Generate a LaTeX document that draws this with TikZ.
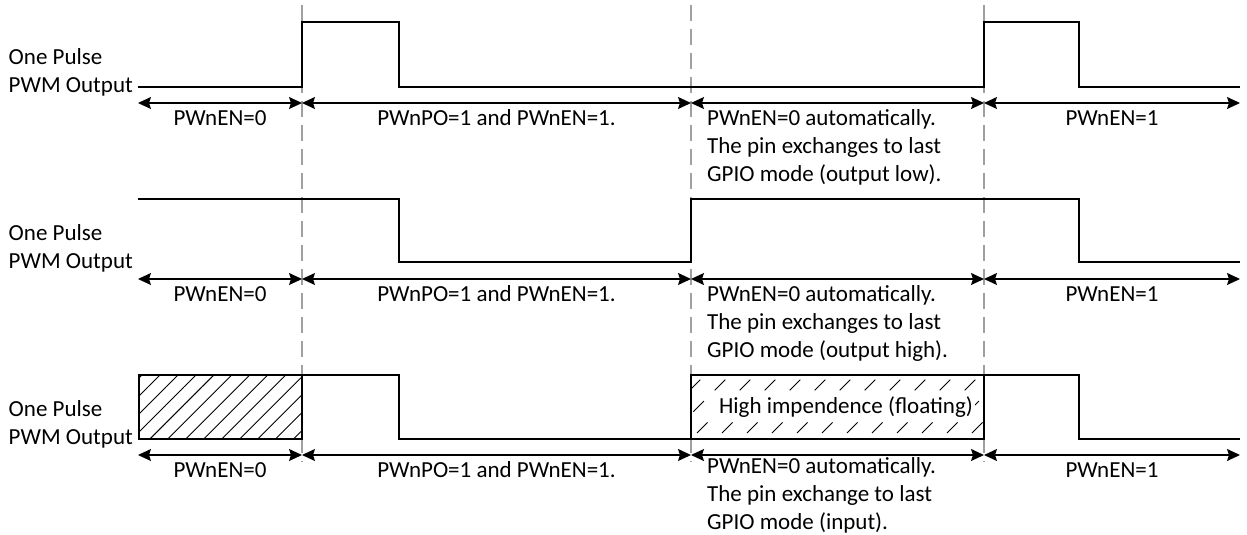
\documentclass[tikz,border=0pt]{standalone}
\usepackage{fontspec}
\setmainfont{Carlito}
\usepackage{xcolor}
\usetikzlibrary{arrows.meta,positioning,patterns.meta}
\definecolor{guidegray}{RGB}{160,160,160}

\begin{document}
\begin{tikzpicture}[
        x=1pt, y=-1pt,
        font=\fontsize{23}{28}\selectfont,
        wave/.style={line width=2.6pt, line join=miter},
        span/.style={{Stealth[length=13pt,width=12pt,inset=2pt]}-{Stealth[length=13pt,width=12pt,inset=2pt]}, line width=1.4pt},
        guide/.style={draw=guidegray, line width=2.2pt, dash pattern=on 16pt off 8pt},
        side/.style={align=left, inner sep=0pt, anchor=east},
        lbl/.style={inner sep=0pt, anchor=base, yshift=-22.4pt},
        note/.style={align=left, inner sep=0pt, anchor=base west}
    ]
        \useasboundingbox (0,0) rectangle (1247,535);

        % timing guides
        \foreach \g/\x in {1/302, 2/691, 3/984} {
            \coordinate (g\g t) at (\x,5);
            \coordinate (g\g b) at (\x,462);
            \draw[guide] (g\g t) -- (g\g b);
        }

        % row 1: output low after the pulse
        \node[side] (name1) at (133,72) {One Pulse\\PWM Output};
        \draw[wave] (138,87) -- (302,87) -- (302,22) -- (399,22) -- (399,87) -- (984,87)
            -- (984,22) -- (1079,22) -- (1079,87) -- (1240,87);

        % row 2: output high after the pulse
        \node[side] (name2) at (133,248.5) {One Pulse\\PWM Output};
        \draw[wave] (138,199) -- (399,199) -- (399,262) -- (691,262) -- (691,199)
            -- (1079,199) -- (1079,262) -- (1240,262);

        % row 3: floating before and after the pulse
        \node[side] (name3) at (133,424.5) {One Pulse\\PWM Output};
        \draw[wave, pattern={Lines[angle=45, distance=12.7pt, line width=0.9pt]}] (139,375) rectangle (302,439);
        \draw[wave] (302,375) -- (399,375) -- (399,439) -- (691,439);
        \begin{scope}
            \clip (691,375) rectangle (984,439);
            \foreach \x in {641,666,...,984}
                \draw[line width=1pt, dash pattern=on 15pt off 15.2pt, dash phase=21.7pt] (\x,439) -- ++(64,-64);
        \end{scope}
        \draw[wave] (691,375) rectangle (984,439);
        \node[fill=white, inner sep=2pt] (hiz) at (846,407) {High impendence (floating)};
        \draw[wave] (984,375) -- (1079,375) -- (1079,439) -- (1240,439);

        % spans and their labels
        \foreach \r/\ay in {1/103, 2/279, 3/455} {
            \foreach \i/\x in {0/138, 1/302, 2/691, 3/984, 4/1240}
                \coordinate (a\r\i) at (\x,\ay);
            \draw[span] (a\r0) -- node[lbl] (off\r) {PWnEN=0} (a\r1);
            \draw[span] (a\r1) -- node[lbl] (on\r) {PWnPO=1 and PWnEN=1.} (a\r2);
            \draw[span] (a\r2) -- (a\r3);
            \draw[span] (a\r3) -- node[lbl] (again\r) {PWnEN=1} (a\r4);
        }
        \node[note] (auto1) at (707,181.4) {PWnEN=0 automatically.\\The pin exchanges to last\\GPIO mode (output low).};
        \node[note] (auto2) at (707,357.4) {PWnEN=0 automatically.\\The pin exchanges to last\\GPIO mode (output high).};
        \node[note] (auto3) at (707,529) {PWnEN=0 automatically.\\The pin exchange to last\\GPIO mode (input).};
    \end{tikzpicture}
\end{document}
